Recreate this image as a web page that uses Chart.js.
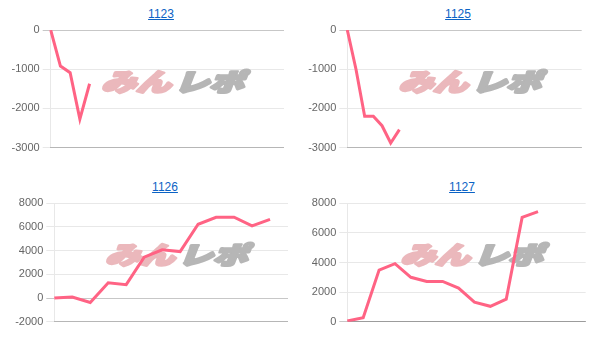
<!DOCTYPE html>
<html>
<head>
<meta charset="utf-8">
<script src="https://cdn.jsdelivr.net/npm/chart.js@4/dist/chart.umd.min.js"></script>
<style>
  html, body { margin: 0; padding: 0; background: #fff; }
  body { width: 611px; height: 352px; position: relative; overflow: hidden; font-family: "Liberation Sans", Arial, sans-serif; }
  .ttl { position: absolute; width: 100px; text-align: center; font-size: 12px; line-height: 14px; }
  .ttl a { color: #0b63c5; text-decoration: underline; }
  .box { position: absolute; }
</style>
</head>
<body>
<script>
// ---- data ----
const machineNames = ['1123', '1125', '1126', '1127'];

const labels1123 = ['1','2','3','4','5','6','7','8','9','10','11','12','13','14','15','16','17','18','19','20','21','22','23','24','25'];
const values1123 = [0, -920, -1090, -2270, -1370];
const yTicks1123 = [0, -1000, -2000, -3000];

const labels1125 = ['1','2','3','4','5','6','7','8','9','10','11','12','13','14','15','16','17','18','19','20','21','22','23','24','25','26','27','28'];
const values1125 = [0, -1000, -2200, -2200, -2440, -2880, -2540];
const yTicks1125 = [0, -1000, -2000, -3000];

const labels1126 = ['1','2','3','4','5','6','7','8','9','10','11','12','13','14'];
const values1126 = [0, 80, -380, 1290, 1130, 3450, 4070, 3920, 6230, 6820, 6820, 6090, 6650];
const yTicks1126 = [8000, 6000, 4000, 2000, 0, -2000];

const labels1127 = ['1','2','3','4','5','6','7','8','9','10','11','12','13','14','15','16'];
const values1127 = [50, 270, 3490, 3920, 3000, 2720, 2720, 2270, 1320, 1040, 1520, 7050, 7440];
const yTicks1127 = [8000, 6000, 4000, 2000, 0];

const watermarkLeft = 'みん';
const watermarkRight = 'レポ';

// ---- layout (chart area positions in the page) ----
const layouts = [
  { boxL: 0,   boxT: 20,  cl: 50.7,  cr: 284,   ct: 30,    cb: 147.7, tx: 161, ty: 7 },
  { boxL: 300, boxT: 20,  cl: 347.3, cr: 581.7, ct: 30,    cb: 147.7, tx: 458, ty: 7 },
  { boxL: 0,   boxT: 193, cl: 54.3,  cr: 288,   ct: 203.3, cb: 321.7, tx: 165, ty: 180 },
  { boxL: 300, boxT: 193, cl: 347.3, cr: 585.7, ct: 203.3, cb: 321.7, tx: 462, ty: 180 }
];

const series = [
  { labels: labels1123, values: values1123, ticks: yTicks1123 },
  { labels: labels1125, values: values1125, ticks: yTicks1125 },
  { labels: labels1126, values: values1126, ticks: yTicks1126 },
  { labels: labels1127, values: values1127, ticks: yTicks1127 }
];

const watermarkPlugin = {
  id: 'watermark',
  beforeDatasetsDraw(chart) {
    const a = chart.chartArea;
    const ctx = chart.ctx;
    const cx = (a.left + a.right) / 2 + 8;
    const cy = (a.top + a.bottom) / 2 - 7.5;
    ctx.save();
    ctx.translate(cx, cy);
    ctx.transform(1.28, 0, -0.35, 0.9, 0, 0);
    ctx.font = '900 27px "Noto Sans CJK JP", sans-serif';
    ctx.textBaseline = 'middle';
    ctx.lineJoin = 'round';
    ctx.lineWidth = 3;
    ctx.textAlign = 'right';
    ctx.fillStyle = 'rgb(235,184,188)';
    ctx.strokeStyle = 'rgb(235,184,188)';
    ctx.strokeText(watermarkLeft, -1, 0);
    ctx.fillText(watermarkLeft, -1, 0);
    ctx.textAlign = 'left';
    ctx.fillStyle = 'rgb(182,182,182)';
    ctx.strokeStyle = 'rgb(182,182,182)';
    ctx.strokeText(watermarkRight, 2, 0);
    ctx.fillText(watermarkRight, 2, 0);
    ctx.restore();
  }
};

function makeChart(i) {
  const L = layouts[i];
  const S = series[i];
  const padBottom = 10;
  const W = L.cr - L.boxL;
  const H = (L.cb + padBottom) - L.boxT;

  const t = document.createElement('div');
  t.className = 'ttl';
  t.style.left = (L.tx - 50) + 'px';
  t.style.top = L.ty + 'px';
  const a = document.createElement('a');
  a.href = '#';
  a.textContent = machineNames[i];
  t.appendChild(a);
  document.body.appendChild(t);

  const box = document.createElement('div');
  box.className = 'box';
  box.style.left = L.boxL + 'px';
  box.style.top = L.boxT + 'px';
  box.style.width = Math.ceil(W) + 'px';
  box.style.height = Math.ceil(H) + 'px';
  const cv = document.createElement('canvas');
  box.appendChild(cv);
  document.body.appendChild(box);

  const ticks = S.ticks;
  new Chart(cv, {
    type: 'line',
    data: {
      labels: S.labels,
      datasets: [{
        data: S.values,
        borderColor: 'rgb(255,99,132)',
        backgroundColor: 'rgb(255,99,132)',
        borderWidth: 3,
        pointRadius: 0,
        pointHoverRadius: 0,
        tension: 0,
        fill: false
      }]
    },
    options: {
      responsive: true,
      maintainAspectRatio: false,
      animation: false,
      layout: { padding: { top: L.ct - L.boxT, right: Math.ceil(W) - W, bottom: Math.ceil(H) - H + padBottom, left: 0 } },
      plugins: { legend: { display: false }, title: { display: false }, tooltip: { enabled: false } },
      scales: {
        x: {
          ticks: { display: false },
          grid: { display: false },
          border: { display: true, color: 'rgba(0,0,0,0.22)' },
          afterFit(scale) { scale.height = 0; }
        },
        y: {
          min: Math.min(...ticks),
          max: Math.max(...ticks),
          afterBuildTicks(scale) { scale.ticks = ticks.map(v => ({ value: v })); },
          afterFit(scale) { scale.width = L.cl - L.boxL; },
          ticks: {
            color: '#666',
            font: { family: '"Liberation Sans", Arial, sans-serif', size: 11 },
            padding: 3,
            callback: (v) => String(v)
          },
          grid: {
            color: (c) => (c.tick && c.tick.value === 0) ? 'rgba(0,0,0,0.22)' : 'rgba(0,0,0,0.09)',
            tickLength: 8
          },
          border: { display: true, color: 'rgba(0,0,0,0.09)' }
        }
      }
    },
    plugins: [watermarkPlugin]
  });
}

for (let i = 0; i < 4; i++) makeChart(i);
</script>
</body>
</html>
